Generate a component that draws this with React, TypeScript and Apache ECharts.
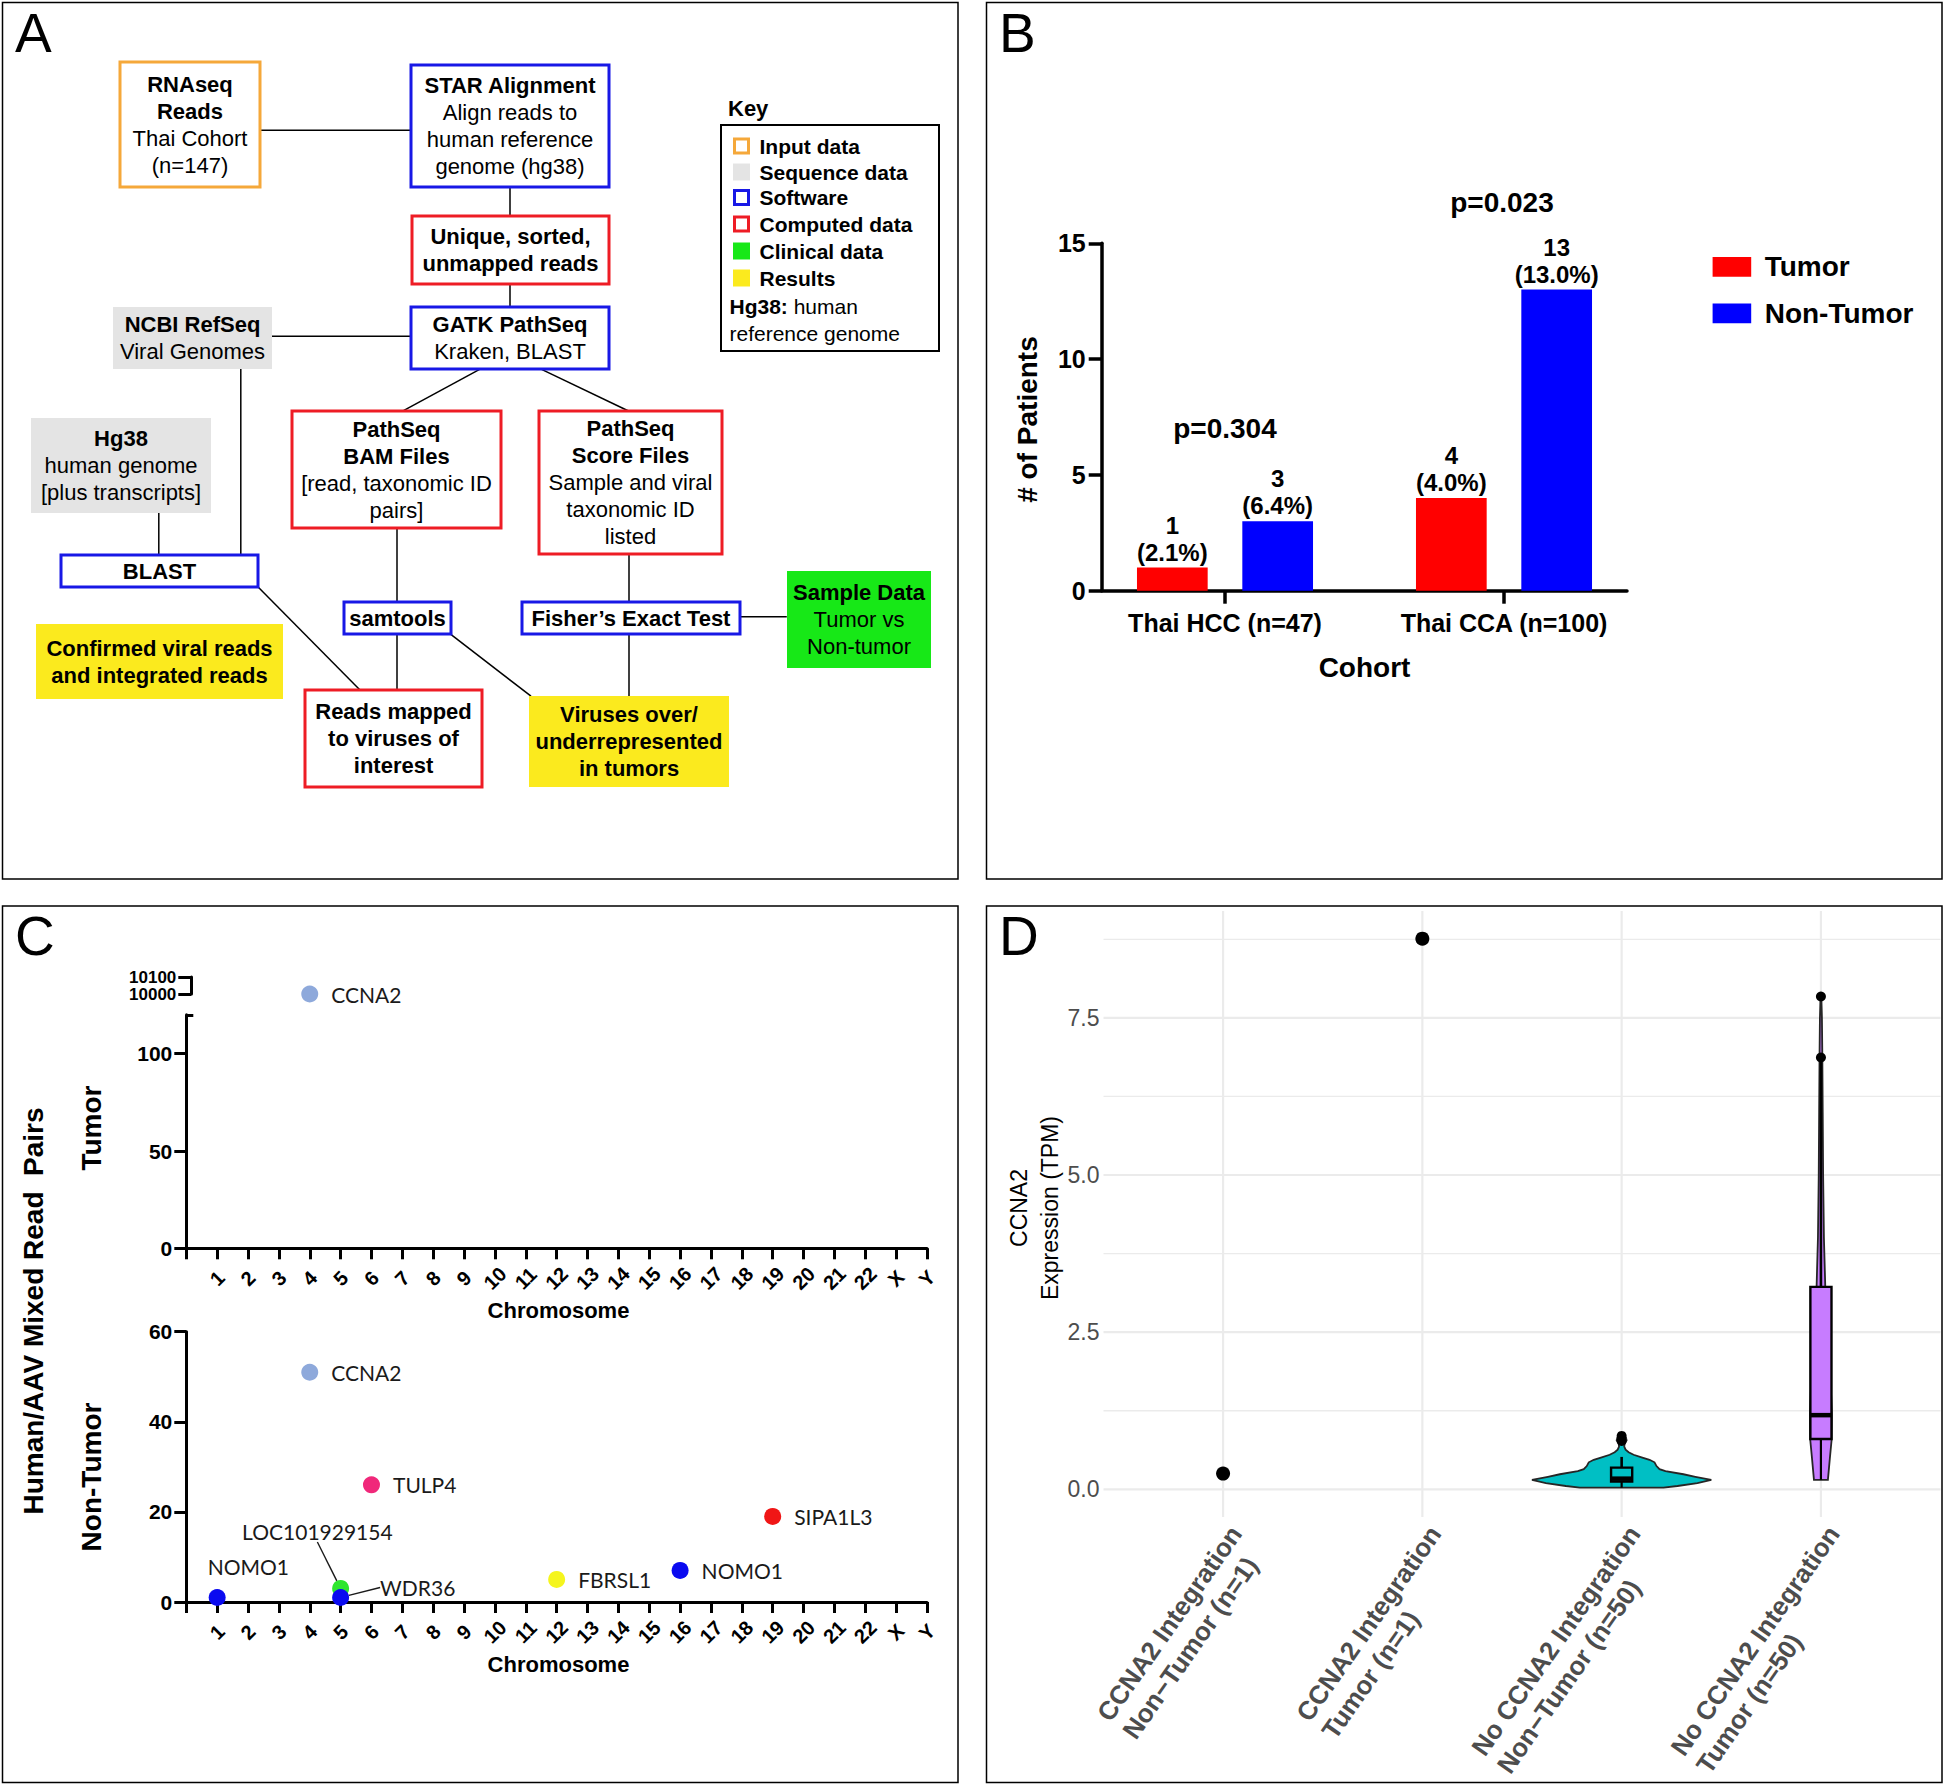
import React, { useEffect, useRef } from 'react';
import * as echarts from 'echarts';

// ================= Panel B data =================
const cohorts = ['Thai HCC (n=47)', 'Thai CCA (n=100)'];
const tumorPatients = [1, 4];
const nonTumorPatients = [3, 13];
const tumorPercent = [2.1, 4.0];
const nonTumorPercent = [6.4, 13.0];
const cohortPValues = ['p=0.304', 'p=0.023'];

// ================= Panel C data =================
const chromosomes = ['1', '2', '3', '4', '5', '6', '7', '8', '9', '10', '11', '12', '13', '14', '15', '16', '17', '18', '19', '20', '21', '22', 'X', 'Y'];
const tumorGenes = ['CCNA2'];
const tumorGeneChr = ['4'];
const tumorReadPairs = [10000];
const breakAxisTicks = [10000, 10100];
const nonTumorGenes = ['CCNA2', 'TULP4', 'SIPA1L3', 'NOMO1', 'LOC101929154', 'WDR36', 'FBRSL1', 'NOMO1'];
const nonTumorGeneChr = ['4', '6', '19', '1', '5', '5', '12', '16'];
const nonTumorReadPairs = [51, 26, 19, 1, 3, 1, 5, 7];

// ================= Panel D data =================
const expressionGroups = [
  'CCNA2 Integration\nNon\u2212Tumor (n=1)',
  'CCNA2 Integration\nTumor (n=1)',
  'No CCNA2 Integration\nNon\u2212Tumor (n=50)',
  'No CCNA2 Integration\nTumor (n=50)',
];
const singleGroupIdx = [0, 1];
const singleTpm = [0.25, 8.76];
const boxGroupIdx = [2, 3];
const boxMin = [0.027, 0.15];
const boxQ1 = [0.122, 0.8];
const boxMedian = [0.17, 1.18];
const boxQ3 = [0.346, 3.22];
const boxMax = [0.516, 6.8];
const outlierGroupIdx = [2, 2, 3, 3];
const outlierTpm = [0.77, 0.85, 6.87, 7.84];
// violin outlines: [TPM, half-width in group units]
const violinNoIntegNonTumor = [
  [0.027, 0.21], [0.053, 0.28], [0.1, 0.38], [0.15, 0.45], [0.2, 0.37], [0.24, 0.31], [0.29, 0.22],
  [0.32, 0.19], [0.37, 0.175], [0.43, 0.165], [0.47, 0.14], [0.51, 0.1], [0.55, 0.06], [0.59, 0.035],
  [0.63, 0.02], [0.68, 0.013], [0.73, 0.015], [0.78, 0.025], [0.82, 0.022], [0.85, 0.006],
];
const violinNoIntegTumor = [
  [0.15, 0.035], [0.5, 0.045], [0.8, 0.054], [1.2, 0.055], [2.0, 0.045], [3.2, 0.022], [4.0, 0.015],
  [5.0, 0.011], [6.0, 0.009], [6.9, 0.007], [7.5, 0.005], [7.84, 0.002],
];
const tpmMajorTicks = [0, 2.5, 5, 7.5];
const tpmMinorGrid = [1.25, 3.75, 6.25, 8.75];

// ================= styles =================
const FONT = '"Liberation Sans", Arial, sans-serif';
const GENE_FONT = 'Lato, "Open Sans", sans-serif';
const ORANGE = '#F5A83A';
const BLUE = '#1818E6';
const RED = '#EE1C25';
const GRAY = '#E4E4E4';
const GREEN = '#17E817';
const YELLOW = '#FBEA1E';

const geneColor: Record<string, string> = {
  CCNA2: '#8EA9DB',
  TULP4: '#F0287A',
  SIPA1L3: '#F01616',
  NOMO1: '#0A0AF0',
  LOC101929154: '#2EE62E',
  WDR36: '#0A0AF0',
  FBRSL1: '#F5F51E',
};
const violinColors = ['#00BFC4', '#C77CFF'];
const violinShapes = [violinNoIntegNonTumor, violinNoIntegTumor];

const labelShift: Record<string, { dx: number; dy: number; line: boolean }> = {
  'NOMO1@1': { dx: -31, dy: -31, line: false },
  'LOC101929154@5': { dx: -120, dy: -57, line: true },
  'WDR36@5': { dx: 18, dy: -10, line: true },
};

// ---------------- Panel A flowchart ----------------
type Node = { x: number; y: number; w: number; h: number; stroke?: string; fill?: string; lines: [string, number][] };
const nodes: Node[] = [
  { x: 120, y: 62, w: 140, h: 125, stroke: ORANGE, lines: [['RNAseq', 1], ['Reads', 1], ['Thai Cohort', 0], ['(n=147)', 0]] },
  { x: 411, y: 65, w: 198, h: 122, stroke: BLUE, lines: [['STAR Alignment', 1], ['Align reads to', 0], ['human reference', 0], ['genome (hg38)', 0]] },
  { x: 412, y: 216, w: 197, h: 68, stroke: RED, lines: [['Unique, sorted,', 1], ['unmapped reads', 1]] },
  { x: 411, y: 307, w: 198, h: 62, stroke: BLUE, lines: [['GATK PathSeq', 1], ['Kraken, BLAST', 0]] },
  { x: 113, y: 307, w: 159, h: 62, fill: GRAY, lines: [['NCBI RefSeq', 1], ['Viral Genomes', 0]] },
  { x: 31, y: 418, w: 180, h: 95, fill: GRAY, lines: [['Hg38', 1], ['human genome', 0], ['[plus transcripts]', 0]] },
  { x: 61, y: 555, w: 197, h: 32, stroke: BLUE, lines: [['BLAST', 1]] },
  { x: 292, y: 411, w: 209, h: 117, stroke: RED, lines: [['PathSeq', 1], ['BAM Files', 1], ['[read, taxonomic ID', 0], ['pairs]', 0]] },
  { x: 539, y: 411, w: 183, h: 143, stroke: RED, lines: [['PathSeq', 1], ['Score Files', 1], ['Sample and viral', 0], ['taxonomic ID', 0], ['listed', 0]] },
  { x: 344, y: 602, w: 107, h: 32, stroke: BLUE, lines: [['samtools', 1]] },
  { x: 522, y: 602, w: 218, h: 32, stroke: BLUE, lines: [['Fisher\u2019s Exact Test', 1]] },
  { x: 787, y: 571, w: 144, h: 97, fill: GREEN, lines: [['Sample Data', 1], ['Tumor vs', 0], ['Non-tumor', 0]] },
  { x: 36, y: 624, w: 247, h: 75, fill: YELLOW, lines: [['Confirmed viral reads', 1], ['and integrated reads', 1]] },
  { x: 305, y: 690, w: 177, h: 97, stroke: RED, lines: [['Reads mapped', 1], ['to viruses of', 1], ['interest', 1]] },
  { x: 529, y: 696, w: 200, h: 91, fill: YELLOW, lines: [['Viruses over/', 1], ['underrepresented', 1], ['in tumors', 1]] },
];
const connectors: number[][] = [
  [260.6, 130.3, 410.8, 130.3],
  [510, 187.4, 510, 215.9],
  [510, 284.2, 510, 306.5],
  [271.8, 336.3, 410.8, 336.3],
  [240.8, 368.6, 240.8, 554.7],
  [158.8, 512.5, 158.8, 554.7],
  [481, 368.6, 403, 410.8],
  [540, 368.6, 628, 410.8],
  [397, 527.4, 397, 601.9],
  [629, 553.5, 629, 601.9],
  [739.6, 616.8, 786.8, 616.8],
  [397, 634.2, 397, 690],
  [258.1, 587, 360, 690],
  [450.5, 634.2, 531, 696.2],
  [629, 634.2, 629, 696.2],
];
const keyItems: [string, string, string][] = [
  ['Input data', 'outline', ORANGE],
  ['Sequence data', 'fill', GRAY],
  ['Software', 'outline', BLUE],
  ['Computed data', 'outline', RED],
  ['Clinical data', 'fill', GREEN],
  ['Results', 'fill', YELLOW],
];
const keyItemY = [146, 172, 197.5, 224, 251, 278];

function text(x: number, y: number, str: string, size: number, weight: string = 'normal', extra: any = {}) {
  const align = extra.align || 'center';
  const va = extra.va || 'middle';
  return {
    type: 'text',
    x,
    y,
    rotation: extra.rotation || 0,
    z: 50,
    style: {
      text: str,
      fontSize: size,
      fontWeight: weight,
      fontFamily: extra.fontFamily || FONT,
      fill: extra.fill || '#000',
      align,
      verticalAlign: va,
      textAlign: align,
      textVerticalAlign: va,
      lineHeight: extra.lineHeight,
      rich: extra.rich,
    },
  };
}

function buildGraphics() {
  const g: any[] = [];
  // panel borders
  [[2.5, 2.5], [986.5, 2.5], [2.5, 906], [986.5, 906]].forEach(([x, y]) => {
    g.push({ type: 'rect', z: 40, shape: { x, y, width: 955.5, height: 876.5 }, style: { fill: 'none', stroke: '#000', lineWidth: 1.5 } });
  });
  // panel letters
  g.push(text(15, 33, 'A', 55, 'normal', { align: 'left' }));
  g.push(text(999, 33, 'B', 55, 'normal', { align: 'left' }));
  g.push(text(15, 936, 'C', 55, 'normal', { align: 'left' }));
  g.push(text(999, 936, 'D', 55, 'normal', { align: 'left' }));

  // ---- Panel A
  const rich = {
    b: { fontSize: 22, fontWeight: 'bold', fontFamily: FONT, fill: '#000', lineHeight: 27 },
    r: { fontSize: 22, fontWeight: 'normal', fontFamily: FONT, fill: '#000', lineHeight: 27 },
  };
  connectors.forEach(([x1, y1, x2, y2]) => {
    g.push({ type: 'line', z: 45, shape: { x1, y1, x2, y2 }, style: { stroke: '#000', lineWidth: 1.5 } });
  });
  nodes.forEach((n) => {
    g.push({
      type: 'rect', z: 46,
      shape: { x: n.x, y: n.y, width: n.w, height: n.h },
      style: { fill: n.fill || '#fff', stroke: n.stroke || 'none', lineWidth: n.stroke ? 3 : 0 },
    });
    const str = n.lines.map(([t, b]) => `{${b ? 'b' : 'r'}|${t}}`).join('\n');
    g.push(text(n.x + n.w / 2, n.y + n.h / 2, str, 22, 'normal', { rich }));
  });
  // key
  g.push(text(728, 108, 'Key', 22, 'bold', { align: 'left' }));
  g.push({ type: 'rect', z: 46, shape: { x: 721, y: 125, width: 218, height: 226 }, style: { fill: '#fff', stroke: '#000', lineWidth: 2 } });
  keyItems.forEach(([label, kind, color], i) => {
    const cy = keyItemY[i];
    if (kind === 'outline') {
      g.push({ type: 'rect', z: 47, shape: { x: 734.5, y: cy - 7, width: 14, height: 14 }, style: { fill: '#fff', stroke: color, lineWidth: 3 } });
    } else {
      g.push({ type: 'rect', z: 47, shape: { x: 733, y: cy - 8.5, width: 17, height: 17 }, style: { fill: color } });
    }
    g.push(text(759.5, cy, label, 21, 'bold', { align: 'left' }));
  });
  g.push(text(729.5, 306.5, '{b|Hg38:}{r| human}', 21, 'normal', {
    align: 'left',
    rich: {
      b: { fontSize: 21, fontWeight: 'bold', fontFamily: FONT, fill: '#000' },
      r: { fontSize: 21, fontWeight: 'normal', fontFamily: FONT, fill: '#000' },
    },
  }));
  g.push(text(729.5, 333.5, 'reference genome', 21, 'normal', { align: 'left' }));

  // ---- Panel B texts
  g.push(text(1027.5, 419.5, '# of Patients', 28, 'bold', { rotation: Math.PI / 2 }));
  g.push(text(1364.5, 667.5, 'Cohort', 28, 'bold'));
  g.push(text(1225, 428, cohortPValues[0], 28, 'bold'));
  g.push(text(1502, 202, cohortPValues[1], 28, 'bold'));

  // ---- Panel C texts
  g.push(text(33, 1311, 'Human/AAV Mixed Read  Pairs', 28, 'bold', { rotation: Math.PI / 2 }));
  g.push(text(91, 1128, 'Tumor', 28, 'bold', { rotation: Math.PI / 2 }));
  g.push(text(91, 1477, 'Non-Tumor', 28, 'bold', { rotation: Math.PI / 2 }));
  g.push(text(558.5, 1310.5, 'Chromosome', 22, 'bold'));
  g.push(text(558.5, 1664, 'Chromosome', 22, 'bold'));

  // ---- Panel D text
  g.push(text(1034, 1208, 'CCNA2\nExpression (TPM)', 23, 'normal', { rotation: Math.PI / 2, lineHeight: 31 }));
  return g;
}

function breakAxis(tickValue: number, showLine: boolean) {
  return {
    gridIndex: 2, type: 'value', min: breakAxisTicks[0], max: breakAxisTicks[1], offset: -5, position: 'left',
    axisLine: { show: showLine, lineStyle: { color: '#000', width: 3 } },
    axisTick: { show: true, length: 13, customValues: [tickValue], lineStyle: { color: '#000', width: 3 } },
    axisLabel: {
      customValues: [tickValue],
      fontSize: 17, fontWeight: 'bold', fontFamily: FONT, color: '#000', margin: 15, lineHeight: 16,
      showMinLabel: true, showMaxLabel: true,
      formatter: (v: number) => String(v),
    },
    splitLine: { show: false },
  };
}

function buildOption() {
  const chrAxisData = [''].concat(chromosomes);
  const cAxisCommon = {
    type: 'category',
    data: chrAxisData,
    boundaryGap: false,
    axisLine: { show: true, lineStyle: { color: '#000', width: 3 } },
    axisTick: { show: true, interval: 0, length: 11, lineStyle: { color: '#000', width: 3 } },
    axisLabel: {
      show: true, interval: 0, rotate: 45, align: 'center', verticalAlign: 'middle', margin: 30,
      fontSize: 20, fontWeight: 'bold', fontFamily: FONT, color: '#000',
    },
    splitLine: { show: false },
  };
  const geneLabel = {
    show: true, position: 'right', distance: 13,
    fontFamily: GENE_FONT, fontSize: 21, color: '#1a1a1a',
  };

  const richD: any = {};
  const richWidths = [231, 231, 273, 273];
  richWidths.forEach((w, i) => {
    richD['w' + i] = {
      width: w, align: 'left', fontSize: 26, fontWeight: 'bold', fontFamily: FONT, color: '#4D4D4D', lineHeight: 31,
    };
  });

  const barLabel = (pct: number[]) => ({
    show: true, position: 'top', distance: 2, color: '#000', fontSize: 24, fontWeight: 'bold', fontFamily: FONT, lineHeight: 27,
    formatter: (p: any) => `${p.value}\n(${pct[p.dataIndex].toFixed(1)}%)`,
  });

  return {
    animation: false,
    backgroundColor: '#fff',
    textStyle: { fontFamily: FONT },
    graphic: { elements: buildGraphics() },
    legend: {
      left: 1707.6, top: 247.8, orient: 'vertical',
      itemWidth: 38.6, itemHeight: 19.8, itemGap: 18.6, icon: 'rect',
      textStyle: { fontSize: 28, fontWeight: 'bold', fontFamily: FONT, color: '#000', padding: [0, 0, 0, 8.5], lineHeight: 28 },
      data: ['Tumor', 'Non-Tumor'],
    },
    grid: [
      { left: 1101.7, top: 243.3, width: 525.3, height: 347.4 }, // B axes
      { left: 1085.5, top: 243.3, width: 558, height: 347.4 }, // B bars
      { left: 186.3, top: 977, width: 740.7, height: 17 }, // C break
      { left: 186.3, top: 1014.8, width: 740.7, height: 233.5 }, // C tumor
      { left: 186.3, top: 1331.7, width: 740.7, height: 270.3 }, // C non-tumor
      { left: 1103.5, top: 911, width: 837, height: 606 }, // D
    ],
    xAxis: [
      {
        gridIndex: 0, type: 'value', min: 0, max: 1,
        axisLine: { show: true, lineStyle: { color: '#000', width: 3.5 } },
        axisTick: { show: false }, axisLabel: { show: false }, splitLine: { show: false },
      },
      {
        gridIndex: 1, type: 'category', data: cohorts,
        axisLine: { show: false },
        axisTick: { show: true, alignWithLabel: true, length: 13, lineStyle: { color: '#000', width: 3.5 } },
        axisLabel: { fontSize: 25, fontWeight: 'bold', fontFamily: FONT, color: '#000', margin: 20 },
        splitLine: { show: false },
      },
      { gridIndex: 2, type: 'category', data: chrAxisData, boundaryGap: false, show: false },
      { gridIndex: 3, ...cAxisCommon },
      { gridIndex: 4, ...cAxisCommon },
      {
        gridIndex: 5, type: 'value', min: -0.6, max: 3.6,
        axisLine: { show: false }, axisTick: { show: false }, splitLine: { show: false },
        axisLabel: {
          customValues: [0, 1, 2, 3],
          rotate: 55, align: 'right', verticalAlign: 'top', margin: 3,
          formatter: (v: number) => {
            const i = Math.round(v);
            const parts = (expressionGroups[i] || '').split('\n');
            return parts.map((p) => `{w${i}|${p}}`).join('\n');
          },
          rich: richD,
        },
      },
    ],
    yAxis: [
      {
        gridIndex: 0, type: 'value', min: 0, max: 15, interval: 5, position: 'left',
        axisLine: { show: true, lineStyle: { color: '#000', width: 3.5 } },
        axisTick: { show: true, length: 13, lineStyle: { color: '#000', width: 3.5 } },
        axisLabel: { fontSize: 25, fontWeight: 'bold', fontFamily: FONT, color: '#000', margin: 16 },
        splitLine: { show: false },
      },
      { gridIndex: 1, type: 'value', min: 0, max: 15, show: false },
      breakAxis(breakAxisTicks[0], true),
      {
        gridIndex: 3, type: 'value', min: 0, max: 120, interval: 50, position: 'left',
        axisLine: { show: true, lineStyle: { color: '#000', width: 3 } },
        axisTick: { show: true, length: 12, lineStyle: { color: '#000', width: 3 } },
        axisLabel: { fontSize: 21, fontWeight: 'bold', fontFamily: FONT, color: '#000', margin: 14, showMaxLabel: false, formatter: (v: number) => String(v) },
        splitLine: { show: false },
      },
      {
        gridIndex: 3, type: 'value', min: 0, max: 120, interval: 120, position: 'left', offset: 0,
        axisLine: { show: false },
        axisTick: { show: true, inside: true, length: 7, lineStyle: { color: '#000', width: 3 } },
        axisLabel: { show: false }, splitLine: { show: false },
      },
      {
        gridIndex: 4, type: 'value', min: 0, max: 60, interval: 20, position: 'left',
        axisLine: { show: true, lineStyle: { color: '#000', width: 3 } },
        axisTick: { show: true, length: 12, lineStyle: { color: '#000', width: 3 } },
        axisLabel: { fontSize: 21, fontWeight: 'bold', fontFamily: FONT, color: '#000', margin: 14 },
        splitLine: { show: false },
      },
      {
        gridIndex: 5, type: 'value', min: -0.44, max: 9.2, position: 'left',
        axisLine: { show: false }, axisTick: { show: false }, splitLine: { show: false },
        axisLabel: {
          customValues: tpmMajorTicks,
          formatter: (v: number) => Number(v).toFixed(1),
          fontSize: 23, fontFamily: FONT, color: '#4D4D4D', margin: 4,
        },
      },
      breakAxis(breakAxisTicks[1], false),
    ],
    series: [
      // ---------- Panel B
      {
        name: 'Tumor', type: 'bar', xAxisIndex: 1, yAxisIndex: 1,
        data: tumorPatients, barWidth: 70.7, barGap: '49%',
        itemStyle: { color: '#FF0000' },
        label: barLabel(tumorPercent),
      },
      {
        name: 'Non-Tumor', type: 'bar', xAxisIndex: 1, yAxisIndex: 1,
        data: nonTumorPatients, barWidth: 70.7, barGap: '49%',
        itemStyle: { color: '#0000FF' },
        label: barLabel(nonTumorPercent),
      },
      // ---------- Panel C: tumor (broken axis segment)
      {
        type: 'scatter', xAxisIndex: 2, yAxisIndex: 2, symbolSize: 17, clip: false, z: 5,
        data: tumorGenes.map((g, i) => ({ value: [tumorGeneChr[i], tumorReadPairs[i]], name: g, itemStyle: { color: geneColor[g], opacity: 1 } })),
        label: { ...geneLabel, formatter: (p: any) => p.name },
      },
      // ---------- Panel C: non-tumor
      {
        type: 'scatter', xAxisIndex: 4, yAxisIndex: 5, symbolSize: 17, clip: false, z: 5,
        data: nonTumorGenes.map((g, i) => {
          const s = labelShift[`${g}@${nonTumorGeneChr[i]}`];
          return {
            value: [nonTumorGeneChr[i], nonTumorReadPairs[i]],
            name: g,
            itemStyle: { color: geneColor[g], opacity: 1 },
            labelLine: { show: !!(s && s.line), lineStyle: { color: '#1a1a1a', width: 1.4 } },
          };
        }),
        label: { ...geneLabel, formatter: (p: any) => p.name },
        labelLayout: (p: any) => {
          const i = p.dataIndex;
          const s = labelShift[`${nonTumorGenes[i]}@${nonTumorGeneChr[i]}`];
          return s ? { dx: s.dx, dy: s.dy } : {};
        },
      },
      // ---------- Panel D: horizontal grid lines
      {
        type: 'custom', xAxisIndex: 5, yAxisIndex: 6, silent: true, z: 1,
        data: tpmMajorTicks.map((v) => [0, v, 1]).concat(tpmMinorGrid.map((v) => [0, v, 0])),
        encode: { x: 0, y: 1 },
        renderItem: (params: any, api: any) => {
          const cs = params.coordSys;
          const y = api.coord([0, api.value(1)])[1];
          return {
            type: 'line',
            shape: { x1: cs.x, y1: y, x2: cs.x + cs.width, y2: y },
            style: { stroke: '#EBEBEB', lineWidth: api.value(2) ? 2.2 : 1.3 },
          };
        },
      },
      // ---------- Panel D: vertical grid lines
      {
        type: 'custom', xAxisIndex: 5, yAxisIndex: 6, silent: true, z: 1,
        data: expressionGroups.map((_, i) => [i, 0]),
        encode: { x: 0, y: 1 },
        renderItem: (params: any, api: any) => {
          const cs = params.coordSys;
          const x = api.coord([api.value(0), 0])[0];
          return {
            type: 'line',
            shape: { x1: x, y1: cs.y, x2: x, y2: cs.y + cs.height },
            style: { stroke: '#EBEBEB', lineWidth: 2.2 },
          };
        },
      },
      // ---------- Panel D: violins
      {
        type: 'custom', xAxisIndex: 5, yAxisIndex: 6, z: 3,
        data: boxGroupIdx.map((g) => [g, 0]),
        encode: { x: 0, y: 1 },
        renderItem: (params: any, api: any) => {
          const g = api.value(0);
          const outline = violinShapes[params.dataIndex];
          const right = outline.map(([v, hw]) => api.coord([g + hw, v]));
          const left = outline.slice().reverse().map(([v, hw]) => api.coord([g - hw, v]));
          return {
            type: 'polygon',
            shape: { points: right.concat(left) },
            style: { fill: violinColors[params.dataIndex], stroke: '#262626', lineWidth: 1.8 },
          };
        },
      },
      // ---------- Panel D: box plots
      {
        type: 'custom', xAxisIndex: 5, yAxisIndex: 6, z: 4,
        data: boxGroupIdx.map((g, i) => [g, boxMin[i], boxQ1[i], boxMedian[i], boxQ3[i], boxMax[i]]),
        encode: { x: 0, y: [1, 2, 3, 4, 5] },
        renderItem: (params: any, api: any) => {
          const g = api.value(0);
          const mn = api.value(1), q1 = api.value(2), md = api.value(3), q3 = api.value(4), mx = api.value(5);
          const hw = 0.053;
          const pMin = api.coord([g, mn]);
          const pMax = api.coord([g, mx]);
          const pQ1 = api.coord([g, q1]);
          const pQ3 = api.coord([g, q3]);
          const tl = api.coord([g - hw, q3]);
          const br = api.coord([g + hw, q1]);
          const ml = api.coord([g - hw, md]);
          const mr = api.coord([g + hw, md]);
          const color = violinColors[params.dataIndex];
          return {
            type: 'group',
            children: [
              { type: 'line', shape: { x1: pMax[0], y1: pMax[1], x2: pQ3[0], y2: pQ3[1] }, style: { stroke: '#000', lineWidth: 2.6 } },
              { type: 'line', shape: { x1: pMin[0], y1: pMin[1], x2: pQ1[0], y2: pQ1[1] }, style: { stroke: '#000', lineWidth: 2.2 } },
              { type: 'rect', shape: { x: tl[0], y: tl[1], width: br[0] - tl[0], height: br[1] - tl[1] }, style: { fill: color, stroke: '#000', lineWidth: 2.4 } },
              { type: 'line', shape: { x1: ml[0], y1: ml[1], x2: mr[0], y2: mr[1] }, style: { stroke: '#000', lineWidth: 4.5 } },
            ],
          };
        },
      },
      // ---------- Panel D: single samples
      {
        type: 'scatter', xAxisIndex: 5, yAxisIndex: 6, symbolSize: 14, z: 6,
        itemStyle: { color: '#000', opacity: 1 },
        data: singleGroupIdx.map((g, i) => [g, singleTpm[i]]),
      },
      // ---------- Panel D: outliers
      {
        type: 'scatter', xAxisIndex: 5, yAxisIndex: 6, symbolSize: 10, z: 6,
        itemStyle: { color: '#000', opacity: 1 },
        data: outlierGroupIdx.map((g, i) => [g, outlierTpm[i]]),
      },
    ],
  };
}

export default function App() {
  const ref = useRef<HTMLDivElement>(null);
  useEffect(() => {
    if (!ref.current) return;
    const chart = echarts.init(ref.current, null, { renderer: 'svg', width: 1946, height: 1787 });
    chart.setOption(buildOption() as any);
    return () => {
      chart.dispose();
    };
  }, []);
  return (
    <div
      ref={ref}
      style={{ position: 'absolute', left: 0, top: 0, width: 1946, height: 1787, background: '#fff' }}
    />
  );
}
